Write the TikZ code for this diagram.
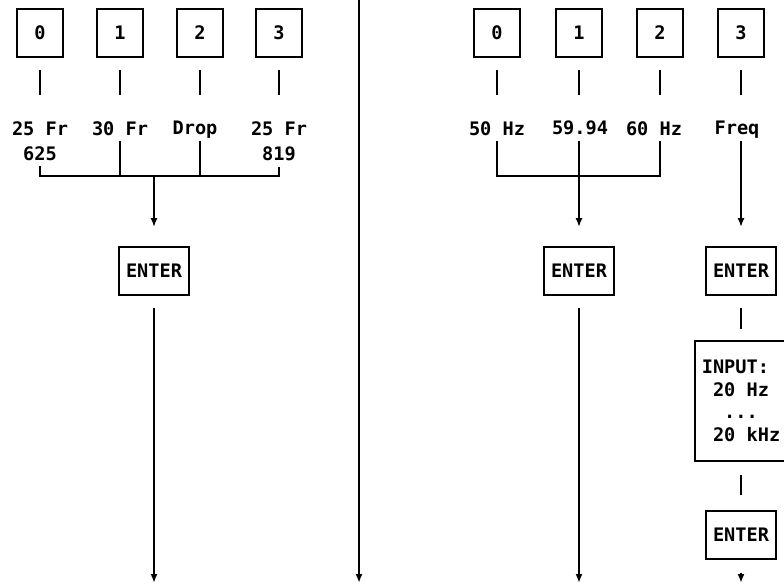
\documentclass[tikz,border=0pt]{standalone}
\usepackage{fontspec}
\usepackage{tikz}
\usetikzlibrary{positioning,arrows.meta}
\newfontfamily\plotmono{DejaVu Sans Mono}
\newcommand{\keyfont}{\plotmono\bfseries\fontsize{18.6pt}{25pt}\selectfont}

\begin{document}
\begin{tikzpicture}[
    x=1pt, y=1pt,
    key/.style={rectangle, draw, line width=1.8pt, minimum width=46pt, minimum height=48pt,
                inner sep=0pt, font=\keyfont},
    enter/.style={key, minimum width=70pt},
    lab/.style={align=center, inner sep=0pt, anchor=north, font=\keyfont},
    wire/.style={line width=1.8pt},
    arrow/.style={wire, -{Latex[length=9pt, width=7pt]}}
]
    \useasboundingbox (0,0) rectangle (784,584);
    \coordinate (rtop) at (0,443);
    \coordinate (bot)  at (0,1);

    % Frame rate keys (left half)
    \node[key] (rate0) at (40,551)  {0};
    \node[key] (rate1) at (120,551) {1};
    \node[key] (rate2) at (200,551) {2};
    \node[key] (rate3) at (279,551) {3};

    \node[lab] (rlab0) at (40,463)  {25 Fr\\625};
    \node[lab] (rlab1) at (120,463) {30 Fr};
    \node[lab] (rlab2) at (195,463) {Drop};
    \node[lab] (rlab3) at (279,463) {25 Fr\\819};

    \foreach \i in {0,...,3}
        \draw[wire] ([yshift=-12pt]rate\i.south) -- ([yshift=-37pt]rate\i.south);

    \coordinate (rbus) at (154,408);
    \draw[wire] ([yshift=-6pt]rlab0.south) |- (rbus) -| ([yshift=-6pt]rlab3.south);
    \draw[wire] (rate1 |- rtop) -- (rate1 |- rbus);
    \draw[wire] (rate2 |- rtop) -- (rate2 |- rbus);

    \node[enter] (enterRate) at (154,313) {ENTER};
    \draw[arrow] (rbus) -- ([yshift=19pt]enterRate.north);
    \draw[arrow] ([yshift=-12pt]enterRate.south) -- (enterRate |- bot);

    % Divider
    \coordinate (divtop) at (359,584);
    \draw[arrow] (divtop) -- (divtop |- bot);

    % Frequency keys (right half)
    \node[key] (freq0) at (497,551) {0};
    \node[key] (freq1) at (579,551) {1};
    \node[key] (freq2) at (660,551) {2};
    \node[key] (freq3) at (741,551) {3};

    \node[lab] (flab0) at (497,463) {50 Hz};
    \node[lab] (flab1) at (580,463) {59.94};
    \node[lab] (flab2) at (654,463) {60 Hz};
    \node[lab] (flab3) at (737,463) {Freq};

    \foreach \i in {0,...,3}
        \draw[wire] ([yshift=-12pt]freq\i.south) -- ([yshift=-37pt]freq\i.south);

    \coordinate (fbus) at (579,408);
    \draw[wire] (freq0 |- rtop) |- (fbus) -| (freq2 |- rtop);

    \node[enter] (enterFreq) at (579,313) {ENTER};
    \node[enter] (enterVar)  at (741,313) {ENTER};
    \node[key, minimum width=92pt, minimum height=120pt, align=left,
          below=44pt of enterVar] (input)
        {INPUT:\\[-2.3pt]~20 Hz\\[-2.3pt]~~...\\[-2.3pt]~20 kHz};
    \node[enter, below=48pt of input] (enterInput) {ENTER};

    \draw[arrow] (freq1 |- rtop) -- ([yshift=19pt]enterFreq.north);
    \draw[arrow] (freq3 |- rtop) -- ([yshift=19pt]enterVar.north);
    \draw[arrow] ([yshift=-12pt]enterFreq.south) -- (enterFreq |- bot);
    \draw[wire] ([yshift=-12pt]enterVar.south) -- ([yshift=11pt]input.north);
    \draw[wire] ([yshift=-13pt]input.south) -- ([yshift=15pt]enterInput.north);
    \draw[arrow] ([yshift=-13pt]enterInput.south) -- (enterInput |- bot);
\end{tikzpicture}
\end{document}
